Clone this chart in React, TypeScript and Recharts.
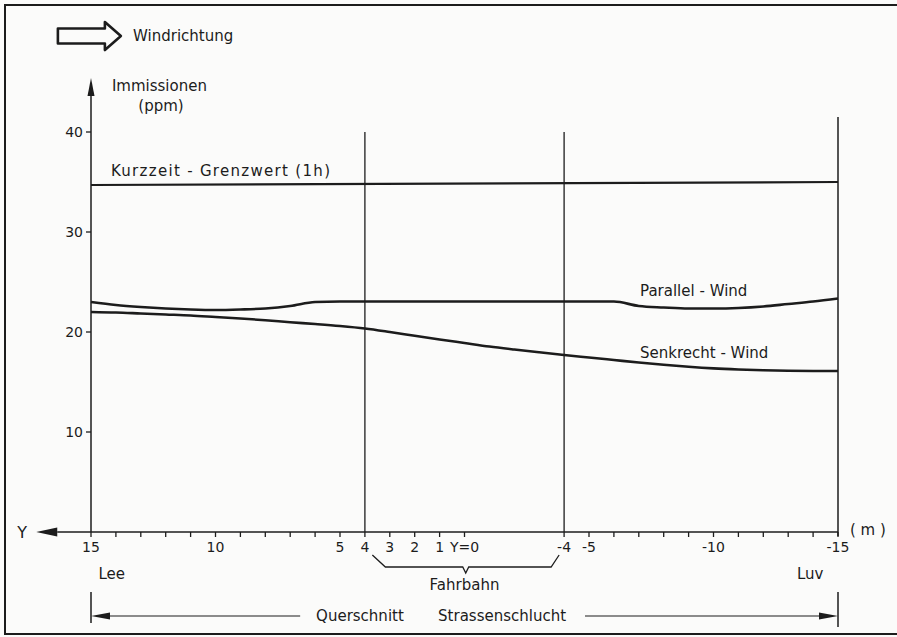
import React from "react";
import { ComposedChart, Line, XAxis, YAxis, ReferenceLine, ReferenceDot } from "recharts";

// Querschnitt position Y (m), 15 = Lee side, -15 = Luv side
const positions = [15, 14, 13, 12, 11, 10, 9, 8, 7, 6, 5, 4, 3, 2, 1, 0, -1, -2, -3, -4, -5, -6, -7, -8, -9, -10, -11, -12, -13, -14, -15];
// Immissionen (ppm)
const parallelWind = [23.0, 22.7, 22.5, 22.35, 22.25, 22.2, 22.25, 22.35, 22.6, 23.0, 23.05, 23.05, 23.05, 23.05, 23.05, 23.05, 23.05, 23.05, 23.05, 23.05, 23.05, 23.05, 22.6, 22.45, 22.35, 22.35, 22.4, 22.55, 22.8, 23.05, 23.35];
const senkrechtWind = [22.0, 21.95, 21.85, 21.75, 21.65, 21.5, 21.35, 21.18, 20.98, 20.8, 20.6, 20.35, 20.0, 19.62, 19.25, 18.9, 18.55, 18.25, 17.97, 17.7, 17.45, 17.2, 16.95, 16.72, 16.52, 16.36, 16.25, 16.17, 16.12, 16.1, 16.1];
// Kurzzeit-Grenzwert (1h)
const grenzPositions = [15, -15];
const grenzWerte = [34.7, 35.0];

const xTicks = [15, 14, 13, 12, 11, 10, 9, 8, 7, 6, 5, 4, 3, 2, 1, 0, -4, -5, -6, -7, -8, -9, -10, -11, -12, -13, -14, -15];
const xLabeled = [15, 10, 5, 4, 3, 2, 1, 0, -4, -5, -10, -15];
const xLabelText = ["15", "10", "5", "4", "3", "2", "1", "Y=0", "-4", "-5", "-10", "-15"];
const yTicks = [10, 20, 30, 40];

const rows = positions.map((x, i) => ({ x, parallel: parallelWind[i], senkrecht: senkrechtWind[i] }));
const grenzRows = grenzPositions.map((x, i) => ({ x, grenz: grenzWerte[i] }));

const ink = "#1c1c1c";
const font = "'DejaVu Sans', sans-serif";

type Note = { text: string; x: number; y: number; anchor?: "start" | "middle" | "end"; size?: number; spacing?: number };

const notes: Note[] = [
  { text: "Windrichtung", x: 13.31, y: 49.6 },
  { text: "Immissionen", x: 14.16, y: 44.6 },
  { text: "(ppm)", x: 13.1, y: 42.6 },
  { text: "Kurzzeit - Grenzwert (1h)", x: 14.2, y: 36.1, spacing: 1.3 },
  { text: "Parallel - Wind", x: -7.05, y: 24.1 },
  { text: "Senkrecht - Wind", x: -7.05, y: 17.9 },
  { text: "Y", x: 17.77, y: 0, anchor: "middle", size: 16 },
  { text: "( m )", x: -15.48, y: 0.2 },
  { text: "Lee", x: 14.7, y: -4.2 },
  { text: "Luv", x: -13.35, y: -4.2 },
  { text: "Fahrbahn", x: 0, y: -5.3, anchor: "middle" },
  { text: "Querschnitt", x: 5.96, y: -8.4 },
  { text: "Strassenschlucht", x: 1.06, y: -8.4 },
];

const noteShape = (n: Note) => (p: any) => (
  <text
    x={p.cx}
    y={p.cy}
    dominantBaseline="central"
    textAnchor={n.anchor ?? "start"}
    fontSize={n.size ?? 15}
    letterSpacing={n.spacing ?? 0}
    fontFamily={font}
    fill={ink}
  >
    {n.text}
  </text>
);

// line with a filled arrow head at its end point
const arrowShape = (len: number, half: number, width: number) => (p: any) => {
  const { x1, y1, x2, y2 } = p;
  const a = Math.atan2(y2 - y1, x2 - x1);
  const bx = x2 - len * Math.cos(a);
  const by = y2 - len * Math.sin(a);
  const nx = -Math.sin(a) * half;
  const ny = Math.cos(a) * half;
  return (
    <g>
      <line x1={x1} y1={y1} x2={bx} y2={by} stroke={ink} strokeWidth={width} />
      <polygon points={`${x2},${y2} ${bx + nx},${by + ny} ${bx - nx},${by - ny}`} fill={ink} />
    </g>
  );
};

const plainShape = (width: number) => (p: any) => (
  <line x1={p.x1} y1={p.y1} x2={p.x2} y2={p.y2} stroke={ink} strokeWidth={width} />
);

// bracket under the Fahrbahn ticks
const bracketShape = (p: any) => {
  const { x1, y1, x2 } = p;
  const mid = (x1 + x2) / 2;
  return (
    <path
      d={`M${x1},${y1} L${x1 + 13},${y1 + 12} L${mid - 3},${y1 + 12} L${mid},${y1 + 18} L${mid + 3},${y1 + 12} L${x2 - 8},${y1 + 12} L${x2},${y1}`}
      fill="none"
      stroke={ink}
      strokeWidth={1.3}
    />
  );
};

const windArrow = (p: any) => {
  const { cx, cy } = p;
  return (
    <path
      d={`M${cx},${cy - 7.5} L${cx + 47},${cy - 7.5} L${cx + 47},${cy - 14} L${cx + 63},${cy} L${cx + 47},${cy + 14} L${cx + 47},${cy + 7.5} L${cx},${cy + 7.5} Z`}
      fill="none"
      stroke={ink}
      strokeWidth={2.6}
      strokeLinejoin="round"
    />
  );
};

const xTickFormat = (v: number) => {
  const i = xLabeled.indexOf(v);
  return i >= 0 ? xLabelText[i] : "";
};

export default function App() {
  return (
    <div style={{ position: "relative", width: 897, height: 637, background: "#fbfbfa", fontFamily: font }}>
      <style>{"body{margin:0;overflow:hidden}"}</style>
      {/* open frame of the figure: left, top and bottom edges only */}
      <svg width={897} height={637} style={{ position: "absolute", left: 0, top: 0 }}>
        <path d="M920,5 L5,5 L5,634 L920,634" fill="none" stroke={ink} strokeWidth={2} />
      </svg>
      <ComposedChart width={897} height={637} data={rows} margin={{ top: 132, right: 59, bottom: 75, left: 31 }}>
        <XAxis
          dataKey="x"
          type="number"
          domain={[-15, 15]}
          reversed
          ticks={xTicks}
          interval={0}
          tickFormatter={xTickFormat}
          axisLine={false}
          tickLine={{ stroke: ink, strokeWidth: 1.3 }}
          tickSize={5}
          tickMargin={5}
          height={30}
          tick={{ fontSize: 14, fill: ink, fontFamily: font }}
        />
        <YAxis
          type="number"
          domain={[0, 40]}
          ticks={yTicks}
          axisLine={false}
          tickLine={{ stroke: ink, strokeWidth: 1.3 }}
          tickSize={5}
          tickMargin={3}
          width={60}
          tick={{ fontSize: 14, fill: ink, fontFamily: font }}
        />

        {/* axes with arrows */}
        <ReferenceLine segment={[{ x: -15, y: 0 }, { x: 17.2, y: 0 }]} ifOverflow="visible" shape={arrowShape(21, 4.5, 1.5)} />
        <ReferenceLine segment={[{ x: 15, y: 0 }, { x: 15, y: 45.4 }]} ifOverflow="visible" shape={arrowShape(18, 3.5, 1.5)} />

        {/* Fahrbahn edges and Luv boundary */}
        <ReferenceLine segment={[{ x: 4, y: 0 }, { x: 4, y: 40 }]} ifOverflow="visible" shape={plainShape(1.3)} />
        <ReferenceLine segment={[{ x: -4, y: 0 }, { x: -4, y: 40 }]} ifOverflow="visible" shape={plainShape(1.3)} />
        <ReferenceLine segment={[{ x: -15, y: -0.4 }, { x: -15, y: 41.5 }]} ifOverflow="visible" shape={plainShape(1.5)} />

        {/* Fahrbahn bracket */}
        <ReferenceLine segment={[{ x: 3.7, y: -2.3 }, { x: -3.8, y: -2.3 }]} ifOverflow="visible" shape={bracketShape} />

        {/* Querschnitt Strassenschlucht dimension line */}
        <ReferenceLine segment={[{ x: 6.6, y: -8.4 }, { x: 15, y: -8.4 }]} ifOverflow="visible" shape={arrowShape(19, 3.5, 1.2)} />
        <ReferenceLine segment={[{ x: -4.84, y: -8.4 }, { x: -15, y: -8.4 }]} ifOverflow="visible" shape={arrowShape(19, 3.5, 1.2)} />
        <ReferenceLine segment={[{ x: 15, y: -6.0 }, { x: 15, y: -9.1 }]} ifOverflow="visible" shape={plainShape(1.5)} />
        <ReferenceLine segment={[{ x: -15, y: -6.0 }, { x: -15, y: -9.5 }]} ifOverflow="visible" shape={plainShape(1.5)} />

        <Line
          data={grenzRows}
          dataKey="grenz"
          type="linear"
          stroke={ink}
          strokeWidth={2.2}
          dot={false}
          activeDot={false}
          isAnimationActive={false}
        />
        <Line dataKey="parallel" type="monotone" stroke={ink} strokeWidth={2.6} dot={false} activeDot={false} isAnimationActive={false} />
        <Line dataKey="senkrecht" type="monotone" stroke={ink} strokeWidth={2.6} dot={false} activeDot={false} isAnimationActive={false} />

        <ReferenceDot x={16.33} y={49.6} ifOverflow="visible" shape={windArrow} />
        {notes.map((n) => (
          <ReferenceDot key={n.text} x={n.x} y={n.y} ifOverflow="visible" shape={noteShape(n)} />
        ))}
      </ComposedChart>
    </div>
  );
}
